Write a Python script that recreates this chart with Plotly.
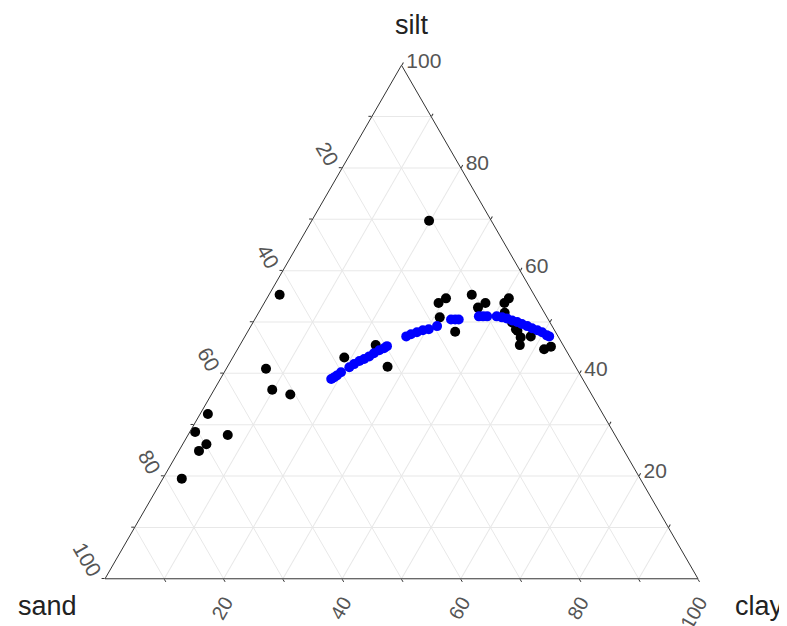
import plotly.graph_objects as go

# Observed samples (percent)
obs_silt = [55.3, 40.9, 36.8, 35.9, 32.1, 28.6, 28.0, 26.2, 24.9, 19.5,
            69.7, 53.7, 54.6, 50.9, 48.1, 55.3, 52.8, 53.7, 53.7, 54.6,
            51.8, 49.9, 48.3, 47.0, 45.5, 47.2, 44.7, 45.2, 43.1, 45.5,
            41.3, 48.6]
obs_clay = [1.8, 6.7, 9.8, 13.3, 1.3, 0.9, 6.7, 4.0, 3.4, 3.2,
            19.8, 29.4, 30.2, 31.0, 35.0, 34.2, 36.5, 37.3, 40.5, 40.8,
            41.5, 43.7, 45.4, 46.6, 47.2, 48.2, 51.7, 52.6, 18.8, 22.9,
            27.0, 45.0]
obs_sand = [42.9, 52.4, 53.4, 50.8, 66.6, 70.5, 65.3, 69.8, 71.7, 77.3,
            10.5, 16.9, 15.2, 18.1, 16.9, 10.5, 10.7, 9.0, 5.8, 4.6,
            6.7, 6.4, 6.3, 6.4, 7.3, 4.6, 3.6, 2.2, 38.1, 31.6,
            31.7, 6.4]

# Fitted curve (percent)
fit_silt = [38.9, 39.2, 39.6, 40.2, 41.2, 41.8, 42.4, 42.8, 43.3, 43.9,
            44.5, 44.9, 45.3, 47.2, 47.6, 48.0, 48.4, 48.6, 49.2, 50.5,
            50.5, 50.5, 51.1, 51.1, 51.1, 51.1, 50.9, 50.7, 50.3, 50.0,
            49.6, 49.2, 48.8, 48.4, 48.0, 47.4, 47.2]
fit_clay = [18.7, 19.0, 19.3, 19.7, 20.6, 21.1, 21.7, 22.3, 22.9, 23.4,
            24.0, 24.6, 24.9, 27.2, 27.8, 28.6, 29.4, 30.3, 31.4, 33.1,
            33.8, 34.4, 37.5, 38.2, 38.9, 40.5, 41.5, 42.4, 43.5, 44.5,
            45.5, 46.6, 47.6, 48.7, 49.7, 50.8, 51.3]
fit_sand = [42.4, 41.8, 41.1, 40.1, 38.2, 37.1, 35.9, 34.9, 33.8, 32.7,
            31.5, 30.5, 29.8, 25.6, 24.6, 23.4, 22.2, 21.1, 19.4, 16.4,
            15.7, 15.1, 11.4, 10.7, 10.0, 8.4, 7.6, 6.9, 6.2, 5.5,
            4.9, 4.2, 3.6, 2.9, 2.3, 1.8, 1.5]

# Tick positions and labels (labels run the other way round the triangle)
tick_vals = [0, 10, 20, 30, 40, 50, 60, 70, 80, 90]
tick_text = ["100", "", "80", "", "60", "", "40", "", "20", ""]

fig = go.Figure()
fig.add_trace(go.Scatterternary(
    a=obs_silt, b=obs_sand, c=obs_clay, mode="markers",
    marker=dict(color="black", size=10, line=dict(width=0)),
    showlegend=False))
fig.add_trace(go.Scatterternary(
    a=fit_silt, b=fit_sand, c=fit_clay, mode="markers",
    marker=dict(color="#0000ff", size=10, line=dict(width=0)),
    showlegend=False))

FONT = "Liberation Sans, Arial, sans-serif"
titlefont = dict(family=FONT, size=27, color="#222222")

def axis(angle, fsize):
    return dict(
        title=dict(text=""),
        min=0,
        tickmode="array", tickvals=tick_vals, ticktext=tick_text,
        tickangle=angle, tickfont=dict(family=FONT, size=fsize, color="#555555"),
        ticks="outside", ticklen=3, tickcolor="#333333",
        linecolor="#333333", linewidth=1, showline=True,
        gridcolor="#e8e8e8", gridwidth=1, showgrid=True,
    )

fig.update_layout(
    width=787, height=626,
    paper_bgcolor="white", plot_bgcolor="white",
    margin=dict(l=0, r=0, t=0, b=0),
    ternary=dict(
        sum=100,
        bgcolor="white",
        domain=dict(x=[97/787, 690/787], y=[55/626, 569/626]),
        aaxis=axis(60, 21),
        baxis=axis(-60, 20),
        caxis=axis(0, 21),
    ),
    annotations=[
        dict(text="silt", x=0.513, y=0.973, xref="paper", yref="paper",
             showarrow=False, font=titlefont, xanchor="center", yanchor="middle"),
        dict(text="sand", x=0.05, y=0.045, xref="paper", yref="paper",
             showarrow=False, font=titlefont, xanchor="center", yanchor="middle"),
        dict(text="clay", x=0.955, y=0.045, xref="paper", yref="paper",
             showarrow=False, font=titlefont, xanchor="center", yanchor="middle"),
    ],
)

fig.write_html("out.html")
